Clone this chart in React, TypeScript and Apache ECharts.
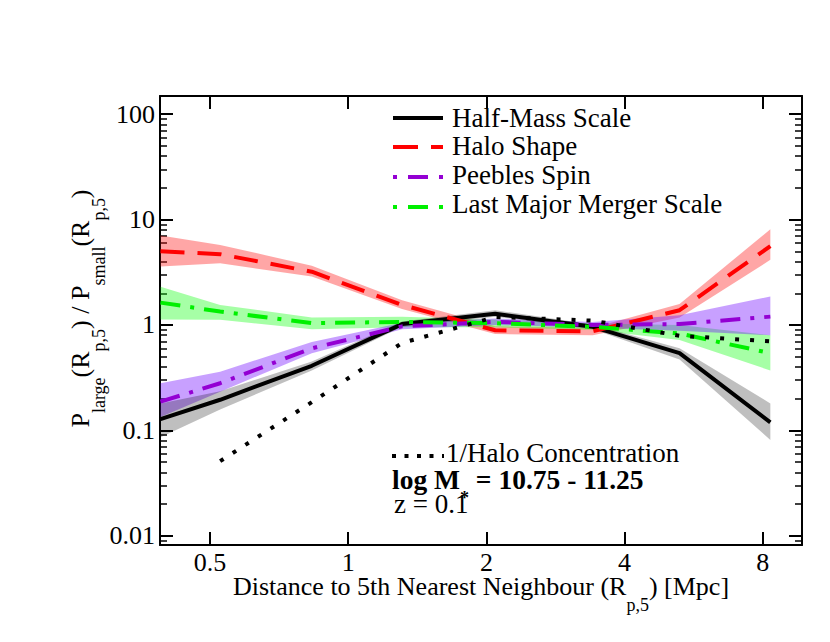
import React, { useEffect, useRef } from "react";
import * as echarts from "echarts";

// Bin centres (Mpc)
const distance = [0.39, 0.526, 0.833, 1.31, 2.09, 3.41, 5.27, 8.31];
// Half-Mass Scale
const halfMass = [0.128, 0.195, 0.41, 1.02, 1.28, 0.96, 0.54, 0.119];
const halfMassLow = [0.086, 0.158, 0.37, 0.96, 1.2, 0.91, 0.47, 0.081];
const halfMassHigh = [0.18, 0.235, 0.45, 1.08, 1.38, 1.01, 0.6, 0.18];
// Halo Shape
const haloShape = [5.0, 4.7, 3.2, 1.55, 0.89, 0.87, 1.38, 5.6];
const haloShapeLow = [3.58, 3.85, 2.88, 1.42, 0.82, 0.8, 1.18, 4.15];
const haloShapeHigh = [7.05, 5.75, 3.65, 1.72, 0.97, 0.94, 1.58, 8.1];
// Peebles Spin
const peeblesSpin = [0.187, 0.28, 0.6, 0.97, 1.07, 1.0, 1.02, 1.2];
const peeblesSpinLow = [0.134, 0.233, 0.54, 0.91, 1.0, 0.94, 0.88, 0.8];
const peeblesSpinHigh = [0.28, 0.36, 0.69, 1.05, 1.15, 1.07, 1.24, 1.86];
// Last Major Merger Scale
const mergerScale = [1.63, 1.34, 1.04, 1.07, 1.04, 0.96, 0.83, 0.54];
const mergerScaleLow = [1.13, 1.12, 0.91, 0.95, 0.95, 0.9, 0.72, 0.37];
const mergerScaleHigh = [2.31, 1.55, 1.18, 1.2, 1.13, 1.03, 1.0, 0.8];
// 1/Halo Concentration
const concDistance = [0.526, 0.833, 1.31, 2.09, 3.41, 5.27, 8.31];
const invConcentration = [0.051, 0.185, 0.675, 1.19, 1.1, 0.79, 0.7];

const xTicks = [0.5, 1, 2, 4, 8];
const yTicks = [0.01, 0.1, 1, 10, 100];
const yMinorTicks = [
  0.009, 0.02, 0.03, 0.04, 0.05, 0.06, 0.07, 0.08, 0.09,
  0.2, 0.3, 0.4, 0.5, 0.6, 0.7, 0.8, 0.9,
  2, 3, 4, 5, 6, 7, 8, 9,
  20, 30, 40, 50, 60, 70, 80, 90,
];
const legendLabels = ["Half-Mass Scale", "Halo Shape", "Peebles Spin", "Last Major Merger Scale"];
const concLabel = "1/Halo Concentration";
const massLabel = "{b|log M}{s|*}{b| = 10.75 - 11.25}";
const redshiftLabel = "z = 0.1";
const xName = "{m|Distance to 5th Nearest Neighbour (R}{s|p,5}{m|) [Mpc]}";
const yName = "{m|P}{s|large}{m|(R}{s|p,5}{m|) / P}{s|small}{m|(R}{s|p,5}{m|)}";

const X_MIN = 0.389;
const X_MAX = 9.74;
const Y_MIN = 0.00816;
const Y_MAX = 149;

const FONT = "Liberation Serif";

const BLACK = "#000000";
const RED = "#ff0000";
const PURPLE = "#9400d3";
const GREEN = "#00f000";
const DASH = [24, 13];
const DASHDOT = [20, 10, 4, 10];
const DOT = [4, 11];

function band(lo: number[], hi: number[], fill: string) {
  return {
    type: "custom",
    silent: true,
    data: distance.map((x, i) => [x, lo[i], hi[i]]),
    encode: { x: 0, y: [1, 2] },
    renderItem: (params: any, api: any) => {
      if (params.dataIndex !== 0) return null;
      const top = distance.map((x, i) => api.coord([x, hi[i]]));
      const bottom = distance.map((x, i) => api.coord([x, lo[i]])).reverse();
      return {
        type: "polygon",
        shape: { points: top.concat(bottom) },
        style: { fill },
      };
    },
  };
}

function line(xs: number[], ys: number[], color: string, type: any, width = 4) {
  return {
    type: "line",
    silent: true,
    symbol: "none",
    data: xs.map((x, i) => [x, ys[i]]),
    lineStyle: { color, width, type, cap: "butt" },
  };
}

// x title: main text top-aligned in a short box, subscript centred in a tall box (drops below)
const xRich = {
  m: { fontFamily: FONT, fontSize: 26, lineHeight: 22, verticalAlign: "top", color: "#000" },
  s: { fontFamily: FONT, fontSize: 18, lineHeight: 63, verticalAlign: "middle", color: "#000" },
};
// y title: tall main box, subscript bottom-aligned
const yRich = {
  m: { fontFamily: FONT, fontSize: 26, lineHeight: 55, color: "#000" },
  s: { fontFamily: FONT, fontSize: 18, lineHeight: 18, verticalAlign: "bottom", color: "#000" },
};

function yAxis(position: string, ticks: number[], length: number, showLine: boolean, labels: boolean, width: number) {
  const ax: any = {
    type: "log",
    min: Y_MIN,
    max: Y_MAX,
    position,
    splitLine: { show: false },
    axisLine: { show: showLine, lineStyle: { color: "#000", width: 2 } },
    axisTick: { show: true, inside: true, length, lineStyle: { color: "#000", width }, customValues: ticks },
    axisLabel: labels
      ? { show: true, customValues: ticks, fontSize: 26, fontFamily: FONT, color: "#000", margin: 5, formatter: (v: number) => String(v) }
      : { show: false },
  };
  return ax;
}

function textEl(text: string, x: number, y: number, extra: any = {}) {
  return {
    type: "text",
    silent: true,
    x,
    y,
    style: {
      text,
      fontFamily: FONT,
      fontSize: 27,
      fill: "#000",
      align: "left",
      verticalAlign: "middle",
      ...extra,
    },
  };
}

export default function App() {
  const ref = useRef<HTMLDivElement>(null);
  useEffect(() => {
    if (!ref.current) return;
    const chart = echarts.init(ref.current, null, { renderer: "svg", width: 830, height: 642 });

    const legendLines = [
      { color: BLACK, dash: null, y: 118 },
      { color: RED, dash: [25, 13], y: 147 },
      { color: PURPLE, dash: [4, 11, 20, 11], y: 177 },
      { color: GREEN, dash: [4, 11, 20, 11], y: 207 },
    ];
    const legendTextY = [118, 146, 175, 204];

    const graphic: any[] = [];
    legendLines.forEach((l, i) => {
      graphic.push({
        type: "line",
        silent: true,
        shape: { x1: 393, y1: l.y, x2: 443, y2: l.y },
        style: { stroke: l.color, lineWidth: 4, lineDash: l.dash || undefined, lineCap: "butt" },
      });
      graphic.push(textEl(legendLabels[i], 452, legendTextY[i]));
    });
    graphic.push({
      type: "line",
      silent: true,
      shape: { x1: 392, y1: 456, x2: 444, y2: 456 },
      style: { stroke: BLACK, lineWidth: 4, lineDash: [4, 8.5], lineCap: "butt" },
    });
    graphic.push(textEl(concLabel, 446, 453));
    graphic.push({
      type: "text",
      silent: true,
      x: 392,
      y: 479,
      style: {
        text: massLabel,
        fill: "#000",
        align: "left",
        verticalAlign: "middle",
        rich: {
          b: { fontFamily: FONT, fontSize: 27.5, fontWeight: "bold", lineHeight: 55, color: "#000" },
          s: { fontFamily: FONT, fontSize: 18, fontWeight: "bold", lineHeight: 18, verticalAlign: "bottom", color: "#000" },
        },
      },
    });
    graphic.push(textEl(redshiftLabel, 394, 504));

    const option: any = {
      animation: false,
      backgroundColor: "#ffffff",
      grid: { left: 160, right: 28, top: 96, bottom: 97, containLabel: false, outerBoundsMode: "none" },
      xAxis: [
        {
          type: "log",
          logBase: 2,
          min: X_MIN,
          max: X_MAX,
          position: "bottom",
          splitLine: { show: false },
          axisLine: { show: true, lineStyle: { color: "#000", width: 2 } },
          axisTick: { show: true, inside: true, length: 13, lineStyle: { color: "#000", width: 2 }, customValues: xTicks },
          axisLabel: {
            customValues: xTicks,
            fontSize: 26,
            lineHeight: 18,
            fontFamily: FONT,
            color: "#000",
            margin: 8,
            formatter: (v: number) => String(v),
          },
          name: xName,
          nameLocation: "middle",
          nameGap: 28,
          nameMoveOverlap: false,
          nameTextStyle: { fontFamily: FONT, fontSize: 26, color: "#000", rich: xRich },
        },
        {
          type: "log",
          logBase: 2,
          min: X_MIN,
          max: X_MAX,
          position: "top",
          splitLine: { show: false },
          axisLine: { show: true, lineStyle: { color: "#000", width: 2 } },
          axisTick: { show: true, inside: true, length: 13, lineStyle: { color: "#000", width: 2 }, customValues: xTicks },
          axisLabel: { show: false },
        },
      ],
      yAxis: [
        {
          ...yAxis("left", yTicks, 13, true, true, 2),
          name: yName,
          nameLocation: "middle",
          nameGap: 52,
          nameRotate: 90,
          nameMoveOverlap: false,
          nameTextStyle: { fontFamily: FONT, fontSize: 26, color: "#000", rich: yRich, padding: [0, 0, 0, 24] },
        },
        yAxis("left", yMinorTicks, 7, false, false, 1.5),
        yAxis("right", yTicks, 13, true, false, 2),
        yAxis("right", yMinorTicks, 7, false, false, 1.5),
      ],
      graphic,
      series: [
        band(haloShapeLow, haloShapeHigh, "rgba(255,20,20,0.38)"),
        band(mergerScaleLow, mergerScaleHigh, "rgba(20,255,20,0.38)"),
        band(peeblesSpinLow, peeblesSpinHigh, "rgba(118,18,255,0.4)"),
        band(halfMassLow, halfMassHigh, "rgba(0,0,0,0.25)"),
        line(distance, halfMass, BLACK, "solid"),
        line(distance, haloShape, RED, DASH),
        line(distance, peeblesSpin, PURPLE, DASHDOT),
        line(distance, mergerScale, GREEN, DASHDOT),
        line(concDistance, invConcentration, BLACK, DOT),
      ],
    };
    chart.setOption(option);
    return () => chart.dispose();
  }, []);

  return <div ref={ref} style={{ position: "absolute", left: 0, top: 0, width: 830, height: 642, background: "#fff" }} />;
}
